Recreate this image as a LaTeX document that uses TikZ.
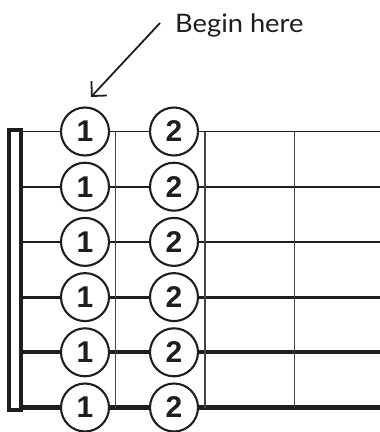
\documentclass[tikz,border=0pt]{standalone}
\usepackage{fontspec}
\newfontfamily\calloutfont{Lato}
\newfontfamily\fingerfont{Liberation Sans}
\usetikzlibrary{arrows.meta}
\definecolor{ink}{HTML}{1E1E1E}
\definecolor{fretgray}{HTML}{444444}
\tikzset{
  string/.style={draw=ink, line cap=butt},
  fretline/.style={draw=fretgray, line width=1.3pt},
  nutbox/.style={draw=ink, line width=4pt, fill=white},
  finger/.style={circle, draw=ink, line width=2.1pt, fill=white, minimum size=48pt,
    inner sep=0pt, font=\fingerfont\bfseries\fontsize{30}{30}\selectfont, text=ink},
  callout/.style={font=\calloutfont\fontsize{25.5}{27}\selectfont, text=ink, inner sep=0pt,
    anchor=base west, xscale=1.07},
  pointer/.style={draw=ink, line width=1.8pt, -{Straight Barb[length=10.6pt, width=21pt, line width=1.8pt]}}
}
\begin{document}
\begin{tikzpicture}[x=1pt, y=-1pt]
  \useasboundingbox (0,0) rectangle (380,432);
  % string positions and gauges (top = thinnest)
  \foreach \i/\w in {1/1.5, 2/1.6, 3/2.1, 4/3.0, 5/3.7, 6/4.5} {
    \coordinate (s\i) at (23, {131.5 + 55.2*(\i-1)});
    \coordinate (e\i) at (380, {131.5 + 55.2*(\i-1)});
    \draw[string, line width=\w pt] (s\i) -- (e\i);
  }
  % frets
  \foreach \j/\x in {1/115.5, 2/205, 3/294.5} {
    \coordinate (ft\j) at (\x, 131.5);
    \coordinate (fb\j) at (\x, 407.5);
    \draw[fretline] (ft\j) -- (fb\j);
  }
  % nut
  \draw[nutbox] (9,130) rectangle (21,410);
  % finger positions
  \foreach \i in {1,...,6} {
    \node[finger] (a\i) at (85, {131.5 + 55.2*(\i-1)}) {1};
    \node[finger] (b\i) at (174, {131.5 + 55.2*(\i-1)}) {2};
  }
  % callout
  \node[callout] (begin) at (175,32) {Begin here};
  \coordinate (pstart) at (160,23);
  \coordinate (ptip) at (91,97);
  \draw[pointer] (pstart) -- (ptip);
\end{tikzpicture}
\end{document}
